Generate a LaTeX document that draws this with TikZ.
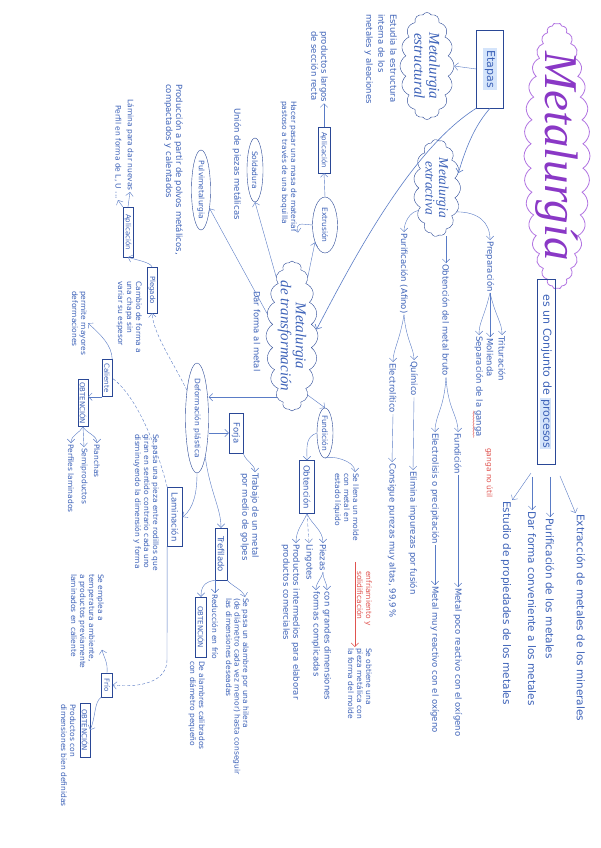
\documentclass[tikz,border=0pt]{standalone}
\usepackage{fontspec}
\setmainfont{DejaVu Sans}
\newfontfamily\handfont{Liberation Serif}
\usepackage{tikz}
\usetikzlibrary{positioning,arrows.meta,calc,shapes.geometric,shapes.symbols,decorations.pathmorphing}
\definecolor{inkblue}{HTML}{3D62B8}
\definecolor{lineblue}{HTML}{5A7CC6}
\definecolor{boxblue}{HTML}{2A4896}
\definecolor{titlepurple}{HTML}{8A38C6}
\definecolor{cloudpurple}{HTML}{B274E2}
\definecolor{notered}{HTML}{E0534F}
\definecolor{markblue}{HTML}{D4E4FB}

\begin{document}
\begin{tikzpicture}[x=1pt, y=1pt, rotate=-90, transform shape,
    txt/.style={text=inkblue, font=\fontsize{8.5}{10}\selectfont, inner sep=1pt, align=left},
    smalltxt/.style={txt, font=\fontsize{7.5}{9}\selectfont},
    bigtxt/.style={txt, font=\fontsize{10.5}{12}\selectfont},
    rednote/.style={txt, text=notered, font=\fontsize{7.5}{9}\selectfont},
    box/.style={draw=boxblue, text=inkblue, font=\fontsize{8.5}{10}\selectfont, inner sep=1.5pt},
    minibox/.style={box, font=\fontsize{7}{8}\selectfont, inner sep=1pt},
    oval/.style={ellipse, draw=boxblue, inner sep=0pt},
    lbl/.style={text=inkblue, font=\fontsize{7.5}{9}\selectfont},
    bubble/.style={cloud, cloud puffs=#1, cloud puff arc=120, cloud ignores aspect, draw=boxblue, inner sep=0pt},
    cloudtxt/.style={text=inkblue, font=\handfont\itshape\fontsize{15}{15}\selectfont, align=center},
    link/.style={draw=lineblue, -{Straight Barb[length=1.3mm]}},
    dlink/.style={link, densely dashed},
    redlink/.style={draw=notered, semithick, -{Straight Barb[length=1.3mm]}}
]
    \fill[white] (0,0) rectangle (848,601);
    \useasboundingbox (0,0) rectangle (848,601);

    % titulo y etapas
    \node[bubble=34, draw=cloudpurple, thick, minimum width=266, minimum height=66,
        label={[text=titlepurple, font=\handfont\itshape\fontsize{47}{47}\selectfont]center:Metalurgía}] (title) at (156,557) {};
    \node[box, semithick, minimum width=78, minimum height=27, font=\fontsize{11}{12}\selectfont] (etapas) at (69,490)
        {{\setlength{\fboxsep}{2pt}\colorbox{markblue}{Etapas}}};
    \node[box, semithick, minimum width=185, minimum height=18, font=\fontsize{11}{12}\selectfont] (conj) at (372,546)
        {es un Conjunto de {\setlength{\fboxsep}{1pt}\colorbox{markblue}{procesos}}};

    \node[bigtxt, anchor=west] (ext1) at (513,581) {Extracción de metales de los minerales};
    \node[bigtxt, anchor=west] (ext2) at (517,550) {Purificación de los metales};
    \node[bigtxt, anchor=west] (ext3) at (510,532) {Dar forma conveniente a los metales};
    \node[bigtxt, anchor=west] (ext4) at (500,506) {Estudio de propiedades de los metales};
    \draw[link, shorten <=12pt] (conj.north east) -- (ext1.south west);
    \draw[link, shorten <=12pt] (conj.east |- ext2.west) -- (ext2.west);
    \draw[link, shorten <=12pt] (conj.east |- ext3.west) -- (ext3.west);
    \draw[link, shorten <=10pt] (conj.south east) -- (ext4.north west);

    % metalurgia estructural
    \node[bubble=16, minimum width=107, minimum height=54,
        label={[cloudtxt]center:{Metalurgia\\estructural}}] (estru) at (66,427) {};
    \node[txt, anchor=north west, font=\fontsize{8.5}{12}\selectfont] (estrutxt) at (13,398)
        {Estudia la estructura\\interna de los\\metales y aleaciones};
    \draw[link] (etapas.south) -- (estru.north);

    % metalurgia extractiva
    \node[bubble=15, minimum width=97, minimum height=47,
        label={[cloudtxt, font=\handfont\itshape\fontsize{13.5}{13.5}\selectfont]center:{Metalurgia\\extractiva}}] (extr) at (188,437) {};
    \draw[link, semithick] (etapas.east) .. controls (122,478) and (140,468) .. (extr.125);

    \node[txt, anchor=west] (prep) at (240,490) {Preparación};
    \node[txt, anchor=west] (trit) at (335,502) {Trituración};
    \node[txt, anchor=west] (mol) at (337,490) {Molienda};
    \node[txt, anchor=west] (sep) at (335,479) {Separación de la ganga};
    \node[rednote, anchor=west] (inutil) at (447,489) {ganga no útil};
    \draw[notered, decorate, decoration={snake, amplitude=0.6pt, segment length=3pt}]
        ($(sep.south east)+(-27,0)$) -- (sep.south east);
    \draw[link] (extr.40) .. controls (212,478) and (222,490) .. (prep.west);
    \draw[link] (prep.east) .. controls (318,496) and (322,502) .. (trit.west);
    \draw[link] (prep.east) -- (mol.west);
    \draw[link] (prep.east) .. controls (318,484) and (322,479) .. (sep.west);

    \node[txt, anchor=west] (bruto) at (263,446) {Obtención del metal bruto};
    \node[txt, anchor=west] (fund1) at (432,458) {Fundición};
    \node[txt, anchor=west] (elec) at (432,435) {Electrolisis o precipitación};
    \node[txt, anchor=west] (poco) at (587,458) {Metal poco reactivo con el oxígeno};
    \node[txt, anchor=west] (muy) at (585,435) {Metal muy reactivo con el oxígeno};
    \draw[link] (extr.east |- bruto.west) -- (bruto.west);
    \draw[link] (bruto.east) .. controls (410,448) and (415,458) .. (fund1.west);
    \draw[link] (bruto.east) .. controls (410,444) and (415,435) .. (elec.west);
    \draw[link] (fund1.east) -- (poco.west);
    \draw[link] (elec.east) -- (muy.west);

    \node[txt, anchor=west] (puri) at (232,404) {Purificación (Afino)};
    \node[txt, anchor=west] (quim) at (360,414) {Químico};
    \node[txt, anchor=west] (electro) at (362,393) {Electrolítico};
    \node[txt, anchor=west] (elim) at (470,413) {Elimina impurezas por fusión};
    \node[txt, anchor=west] (cons) at (462,392) {Consigue purezas muy altas, 99,9\,\%};
    \draw[link] (extr.-40) .. controls (212,410) and (222,404) .. (puri.west);
    \draw[link] (puri.east) .. controls (340,406) and (348,414) .. (quim.west);
    \draw[link] (puri.east) .. controls (340,400) and (350,393) .. (electro.west);
    \draw[link] (quim.east) -- (elim.west);
    \draw[link] (electro.east) -- (cons.west);

    % metalurgia de transformacion
    \node[bubble=20, minimum width=150, minimum height=52,
        label={[cloudtxt]center:{Metalurgia\\de transformación}}] (transf) at (336,292) {};
    \node[txt, anchor=west] (dar) at (290,257) {Dar forma al metal};
    \draw[link, semithick] (etapas.south east) .. controls (150,410) and (262,352) .. (transf.105);

    \node[oval, minimum width=56, minimum height=25, label={[lbl]center:Extrusión}] (extru) at (225,325) {};
    \node[minibox, minimum width=46, minimum height=12] (aplic1) at (150,324) {Aplicación};
    \node[txt, anchor=north west] (largos) at (30,329) {productos largos\\de sección recta};
    \node[smalltxt, anchor=north west] (masa) at (100,298)
        {Hacer pasar una masa de material\\pastoso a través de una boquilla};
    \draw[link] (transf.165) -- (extru.-30);
    \draw[link] (extru.west) -- (aplic1.east);
    \draw[link] (aplic1.west) -- (aplic1.west -| largos.east);
    \draw[link] (extru.south) .. controls (224,300) and (222,296) .. (masa.north east);

    \node[oval, minimum width=64, minimum height=16, label={[lbl]center:Soldadura}] (sold) at (170,255) {};
    \node[txt, anchor=west] (union) at (107,237) {Unión de piezas metálicas};
    \draw[link] (transf.195) -- (sold.east);

    \node[oval, minimum width=80, minimum height=19, label={[lbl]center:Pulvimetalurgia}] (pulvi) at (190,201) {};
    \node[txt, anchor=north west] (pulvitxt) at (83,184)
        {Producción a partir de polvos metálicos,\\compactados y calentados};
    \draw[link] (transf.228) -- (pulvi.25);

    % fundicion
    \node[oval, minimum width=50, minimum height=16, label={[lbl]center:Fundición}] (fundo) at (433,325) {};
    \node[smalltxt, anchor=north west] (molde) at (472,360) {Se llena un molde\\con metal en\\estado líquido};
    \node[rednote, anchor=north west] (enfria) at (570,373) {enfriamiento y\\solidificación};
    \node[smalltxt, anchor=north west] (pieza) at (647,373) {Se obtiene una\\pieza metálica con\\la forma del molde};
    \draw[link] (transf.15) -- (fundo.west);
    \draw[link] (fundo.east) .. controls (455,330) and (460,355) .. ($(molde.north west)+(0,-5)$);
    \draw[redlink, shorten <=20pt] ($(molde.east |- pieza.west)+(0,-5)$) -- ($(pieza.west)+(0,-5)$);

    \node[box, minimum width=53, minimum height=15] (obt1) at (487,307) {Obtención};
    \node[txt, anchor=west] (piezas) at (543,323) {Piezas};
    \node[txt, anchor=west] (grandes) at (590,327) {con grandes dimensiones};
    \node[txt, anchor=west] (complic) at (590,316) {formas complicadas};
    \node[txt, anchor=west] (lingotes) at (543,309) {Lingotes};
    \node[txt, anchor=north west] (prodint) at (543,301)
        {Productos intermedios para elaborar\\productos comerciales};
    \draw[link] (fundo.south) .. controls (437,305) and (448,307) .. (obt1.west);
    \draw[link] (obt1.east) .. controls (525,312) and (530,323) .. (piezas.west);
    \draw[link, densely dashed] (obt1.east) -- (lingotes.west);
    \draw[link] (obt1.east) .. controls (525,302) and (530,296) .. ($(prodint.north west)+(0,-5)$);
    \draw[link] (piezas.east) .. controls (580,323) and (582,327) .. (grandes.west);
    \draw[link] (piezas.east) .. controls (580,321) and (582,316) .. (complic.west);

    % deformacion plastica
    \node[oval, minimum width=110, minimum height=23, label={[lbl]center:Deformación plástica}] (deform) at (418,197) {};
    \draw[link] (transf.-14) -- (transf.-14 |- deform.north);

    \node[box, minimum width=40, minimum height=14] (forja) at (433,236) {Forja};
    \node[txt, anchor=north west] (golpes) at (472,260) {Trabajo de un metal\\por medio de golpes};
    \draw[link] (forja.south |- deform.north) -- (forja.south);
    \draw[link] (forja.north east) .. controls (462,246) and (464,255) .. ($(golpes.north west)+(0,-5)$);

    \node[box, minimum width=52, minimum height=12] (tref) at (554,221) {Trefilado};
    \node[smalltxt, anchor=north west, font=\fontsize{7.5}{8.5}\selectfont] (alambre) at (597,250)
        {Se pasa un alambre por una hilera\\(de diámetro cada vez menor) hasta conseguir\\las dimensiones deseadas};
    \node[smalltxt, anchor=west] (redfrio) at (593,215) {Reducción en frío};
    \node[minibox, minimum width=60, minimum height=11] (obt2) at (627,201) {OBTENCIÓN};
    \node[smalltxt, anchor=north west] (alamtxt) at (660,206) {De alambres calibrados\\con diámetro pequeño};
    \draw[link] (deform.12) .. controls (492,210) and (508,221) .. (tref.west);
    \draw[link] (tref.north east) .. controls (586,232) and (590,243) .. ($(alambre.north west)+(0,-5)$);
    \draw[link] (tref.east |- redfrio.west) -- (redfrio.west);
    \draw[link] (tref.south east) .. controls (582,205) and (586,201) .. (obt2.west);

    \node[box, minimum width=59, minimum height=15] (lamin) at (517,175) {Laminación};
    \node[smalltxt, anchor=north west] (lamtxt) at (433,160)
        {Se pasa una pieza entre rodillos que\\giran en sentido contrario cada uno\\disminuyendo la dimensión y forma};
    \draw[link] (deform.east) .. controls (492,197) and (508,194) .. (lamin.north);

    \node[minibox, minimum width=37, minimum height=10] (cal) at (378,107) {Caliente};
    \node[smalltxt, anchor=north west] (mayores) at (290,88) {permite mayores\\deformaciones};
    \node[minibox, minimum width=47, minimum height=10] (obt3) at (403,83) {OBTENCIÓN};
    \node[smalltxt, anchor=west] (planchas) at (443,97) {Planchas};
    \node[smalltxt, anchor=west] (semi) at (447,84) {Semiproductos};
    \node[smalltxt, anchor=west] (perfl) at (443,71) {Perfiles laminados};
    \draw[lineblue, densely dashed] (lamin.south west) .. controls (440,155) and (395,135) .. (cal.north);
    \draw[link] (cal.north west) .. controls (345,112) and (334,100) .. (mayores.north);
    \draw[link] (cal.south east) -- (cal.south east |- obt3.north);
    \draw[link] (obt3.east) .. controls (433,86) and (435,97) .. (planchas.west);
    \draw[link] (obt3.east) -- (semi.west);
    \draw[link] (obt3.east) .. controls (433,80) and (435,71) .. (perfl.west);

    \coordinate (lamend) at (660,167);
    \node[minibox, minimum width=24, minimum height=11] (frio) at (685,107) {Frío};
    \node[smalltxt, anchor=north west] (fritxt) at (573,105)
        {Se emplea a\\temperatura ambiente,\\a productos previamente\\laminados en caliente};
    \node[minibox, minimum width=54, minimum height=10] (obt4) at (730,85) {OBTENCIÓN};
    \node[smalltxt, anchor=north west] (dimtxt) at (703,77) {Productos con\\dimensiones bien definidas};
    \draw[lineblue] (lamin.south west) -- (lamend);
    \draw[link, densely dashed] (lamend) .. controls (682,167) and (688,140) .. (frio.north);
    \draw[link] (frio.west) .. controls (662,108) and (658,104) .. ($(fritxt.north east)+(-20,-3)$);
    \draw[link] (frio.south east) .. controls (702,94) and (716,96) .. (obt4.north);

    \node[minibox, minimum width=46, minimum height=10] (pleg) at (290,152) {Plegado};
    \node[smalltxt, anchor=north west] (chapa) at (280,143) {Cambio de forma a\\una chapa sin\\variar su espesor};
    \node[minibox, minimum width=50, minimum height=10] (aplic2) at (232,128) {Aplicación};
    \node[smalltxt, anchor=east] (lamina) at (192,130) {Lámina para dar nuevas};
    \node[smalltxt, anchor=east] (perfil) at (200,118) {Perfil en forma de L, U ...};
    \draw[dlink] (deform.200) .. controls (360,172) and (335,154) .. (pleg.east);
    \draw[link] (pleg.west) .. controls (262,150) and (260,136) .. (aplic2.east);
    \draw[link] (aplic2.west) -- (lamina.east);
    \draw[link] (aplic2.south west) .. controls (204,120) .. (perfil.east);
\end{tikzpicture}
\end{document}
